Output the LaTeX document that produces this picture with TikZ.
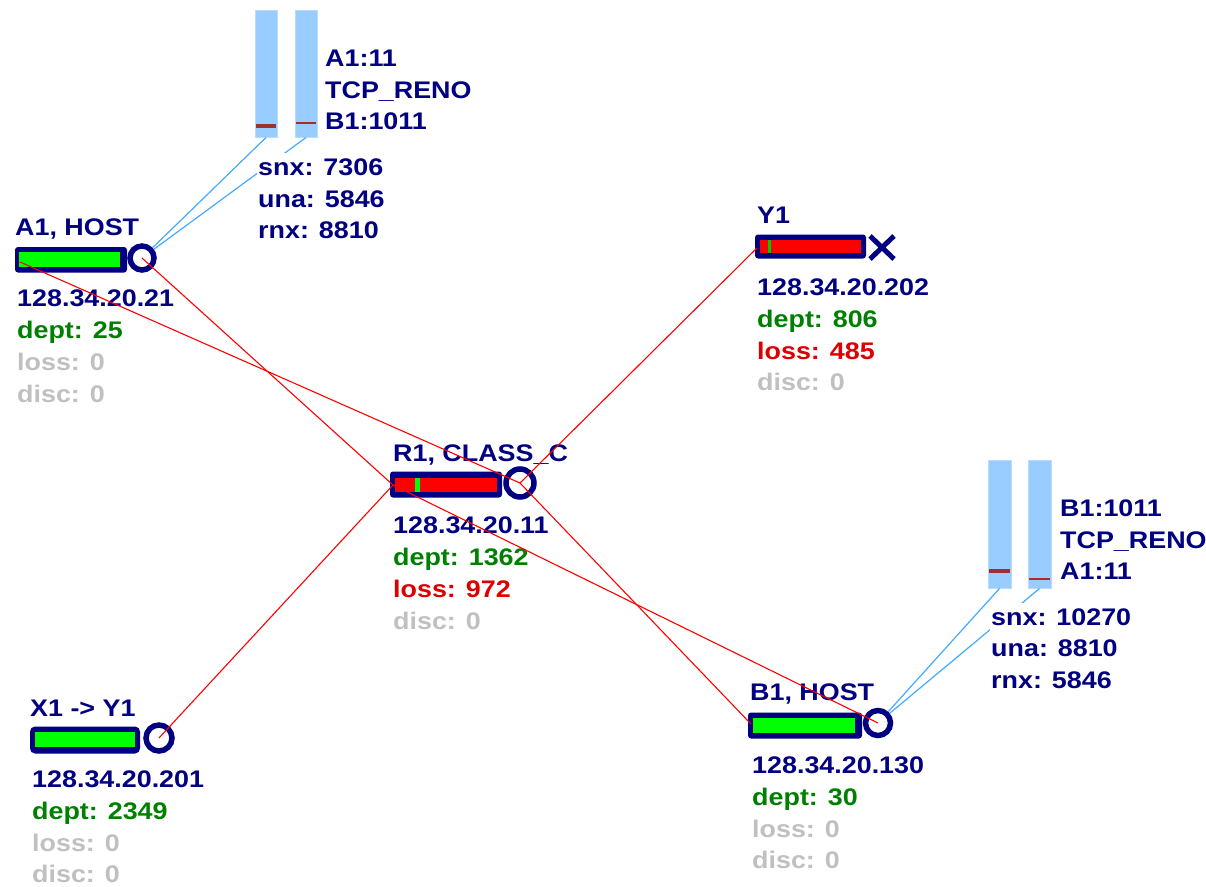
\documentclass[tikz,border=0pt]{standalone}
\usepackage{fontspec}
\newfontfamily\labfont{Liberation Sans}[FakeStretch=1.12]
\definecolor{navy}{HTML}{000080}
\definecolor{dgreen}{HTML}{008000}
\definecolor{lred}{HTML}{DD0000}
\definecolor{lgray}{HTML}{C0C0C0}
\definecolor{gfill}{HTML}{00FF00}
\definecolor{rfill}{HTML}{FF0000}
\definecolor{gaugec}{HTML}{99CCFF}
\definecolor{gaugeedge}{HTML}{B8DCFF}
\definecolor{markc}{HTML}{A03030}
\definecolor{linkred}{HTML}{FF0000}
\definecolor{blink}{HTML}{44AAFF}
\tikzset{
  txt/.style={anchor=base west, inner sep=0pt, font=\labfont\bfseries\fontsize{24}{28}\selectfont},
  nv/.style={txt, text=navy},
  gr/.style={txt, text=dgreen},
  rd/.style={txt, text=lred},
  gy/.style={txt, text=lgray},
  stat/.style={nv, fill=white, inner xsep=1pt, inner ysep=6pt},
  hub/.style={circle, draw=navy, line width=5.5pt, inner sep=0pt},
  link/.style={draw=linkred, line width=1.1pt},
  tap/.style={draw=blink, line width=1.2pt},
  gauge/.style={rectangle, fill=gaugec, draw=gaugeedge, line width=1pt, minimum width=22pt, minimum height=127pt, inner sep=0pt},
  markthick/.style={draw=markc, line width=4pt},
  markthin/.style={draw=markc, line width=2pt},
}
\begin{document}
\begin{tikzpicture}[x=1pt,y=-1pt]
\useasboundingbox (0,0) rectangle (1206,886);
\fill[white] (0,0) rectangle (1206,886);

% ---------- bars ----------
% A1
\fill[navy, rounded corners=3pt] (15,247) rectangle (127,272.5);
\fill[gfill] (18.5,252) rectangle (120,267);
\node[hub, minimum size=24pt] (a1c) at (142,258) {};
\coordinate (a1l) at (20,262);
% Y1
\fill[navy, rounded corners=3pt] (755,234.5) rectangle (866,258.5);
\fill[rfill] (760,240) rectangle (861,253);
\fill[dgreen!40!gfill] (768,240) rectangle (771,253);
\draw[navy, line width=5pt] (870,236) -- (894,259) (870,259) -- (894,236);
\coordinate (y1l) at (757,248);
% R1
\fill[navy, rounded corners=3pt] (390,471.5) rectangle (502,497.5);
\fill[rfill] (395,478) rectangle (497,492);
\fill[gfill] (415,478) rectangle (420,492);
\node[hub, minimum size=28pt] (r1c) at (520,483) {};
\coordinate (r1l) at (393,485);
% B1
\fill[navy, rounded corners=3pt] (748,712.5) rectangle (862,738.5);
\fill[gfill] (753,718) rectangle (855,733);
\node[hub, minimum size=25pt] (b1c) at (878,723) {};
\coordinate (b1l) at (751,724);
% X1
\fill[navy, rounded corners=5pt] (30,726.5) rectangle (140,753.5);
\fill[gfill] (35,732) rectangle (135,747);
\node[hub, minimum size=26pt] (x1c) at (159,738) {};

% ---------- gauges ----------
\node[gauge] (g1a) at (266,73.5) {};
\node[gauge] (g1b) at (306,73.5) {};
\draw[markthick] (256,126) -- (276,126);
\draw[markthin] (296,123) -- (316,123);
\node[gauge, minimum width=23pt, minimum height=128pt] (g2a) at (999.5,524) {};
\node[gauge, minimum width=23pt, minimum height=128pt] (g2b) at (1039.5,524) {};
\draw[markthick] (989,570.5) -- (1010,570.5);
\draw[markthin] (1029,579) -- (1050,579);

\draw[tap] (a1c) -- (g1a.south);
\draw[tap] (a1c) -- (g1b.south);
\draw[tap] (b1c) -- (g2a.south);
\draw[tap] (b1c) -- (g2b.south);

% ---------- gauge texts ----------
\node[nv] (g1t1) at (325,66.5) {A1:11};
\node[nv] (g1t2) at (325,98.5) {TCP\_RENO};
\node[nv] (g1t3) at (325,129.5) {B1:1011};
\node[stat] (g1s1) at (257,175.5) {snx: 7306};
\node[stat] (g1s2) at (257,207.5) {una: 5846};
\node[stat] (g1s3) at (257,238.5) {rnx: 8810};

\node[nv] (g2t1) at (1060,516.5) {B1:1011};
\node[nv] (g2t2) at (1060,548.5) {TCP\_RENO};
\node[nv] (g2t3) at (1060,579.5) {A1:11};
\node[stat] (g2s1) at (990,625.5) {snx: 10270};
\node[stat] (g2s2) at (990,656.5) {una: 8810};
\node[stat] (g2s3) at (990,688.5) {rnx: 5846};

% ---------- node texts ----------
\node[nv] (a1n) at (15,235.5) {A1, HOST};
\node[nv] (a1ip) at (17,306.5) {128.34.20.21};
\node[gr] (a1d) at (17,338.5) {dept: 25};
\node[gy] (a1lo) at (17,370.5) {loss: 0};
\node[gy] (a1di) at (17,402) {disc: 0};

\node[nv] (y1n) at (757,223.5) {Y1};
\node[nv] (y1ip) at (757,295.5) {128.34.20.202};
\node[gr] (y1d) at (757,327.5) {dept: 806};
\node[rd] (y1lo) at (757,359.5) {loss: 485};
\node[gy] (y1di) at (757,390.5) {disc: 0};

\node[nv] (r1n) at (393,461.5) {R1, CLASS\_C};
\node[nv] (r1ip) at (393,533.5) {128.34.20.11};
\node[gr] (r1d) at (393,565.5) {dept: 1362};
\node[rd] (r1lo) at (393,597.5) {loss: 972};
\node[gy] (r1di) at (393,629) {disc: 0};

\node[nv] (b1n) at (750,700.5) {B1, HOST};
\node[nv] (b1ip) at (752,773.5) {128.34.20.130};
\node[gr] (b1d) at (752,805.5) {dept: 30};
\node[gy] (b1lo) at (752,837.5) {loss: 0};
\node[gy] (b1di) at (752,868.5) {disc: 0};

\node[nv] (x1n) at (30,716.5) {X1 -> Y1};
\node[nv] (x1ip) at (32,787.5) {128.34.20.201};
\node[gr] (x1d) at (32,819.5) {dept: 2349};
\node[gy] (x1lo) at (32,851.5) {loss: 0};
\node[gy] (x1di) at (32,882.5) {disc: 0};

% ---------- links ----------
\draw[link] (a1l) -- (r1c.center);
\draw[link] (a1c.center) -- (r1l);
\draw[link] (r1c.center) -- (b1l);
\draw[link] (r1l) -- (b1c.center);
\draw[link] (y1l) -- (r1c.center);
\draw[link] (x1c.center) -- (r1l);
\end{tikzpicture}
\end{document}
